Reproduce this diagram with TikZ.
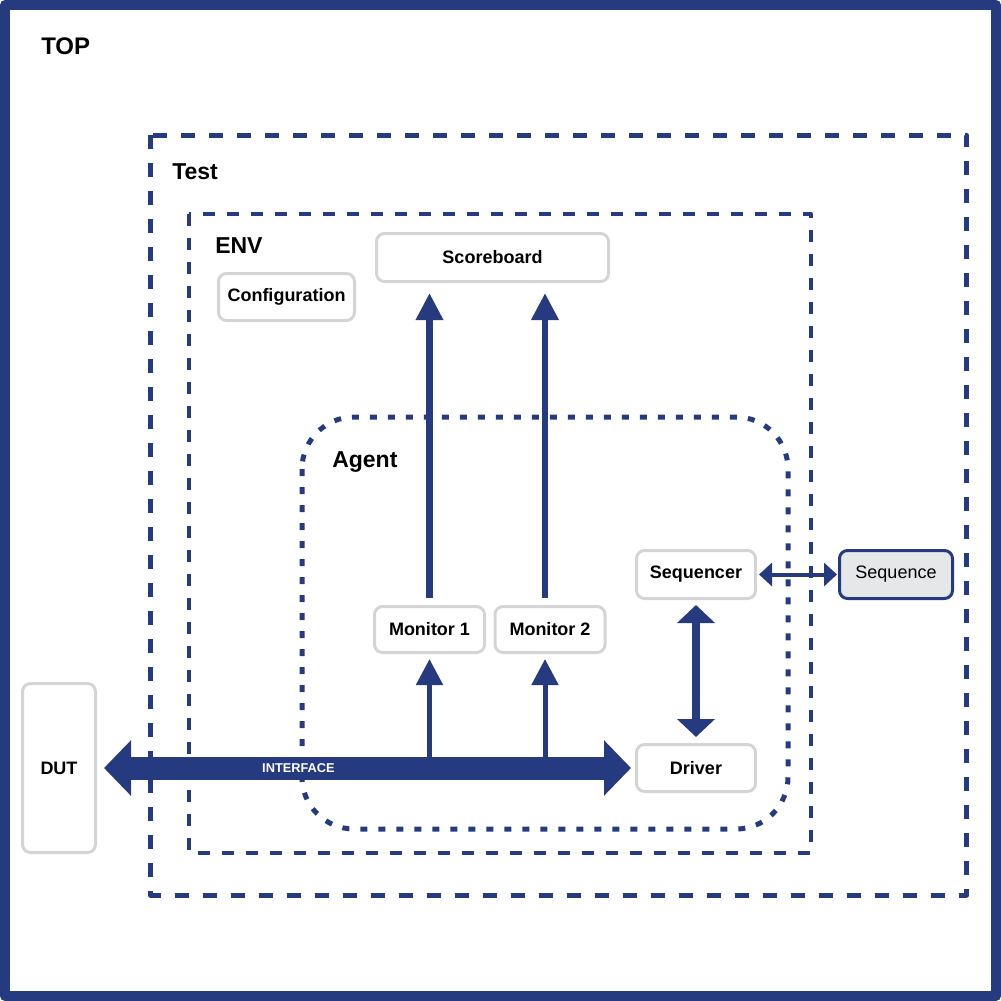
\documentclass[tikz,border=0pt]{standalone}
\usepackage{fontspec}
\setmainfont{Liberation Sans}
\usetikzlibrary{arrows.meta,calc}
\definecolor{navy}{RGB}{38,58,128}
\definecolor{boxgray}{RGB}{212,212,212}
\definecolor{seqfill}{RGB}{230,231,232}
\begin{document}
\begin{tikzpicture}[line cap=round,line join=round,x=0.75pt,y=-0.75pt,
  frame/.style={draw=navy,line cap=butt},
  title/.style={anchor=base west,inner sep=0pt,font=\bfseries\fontsize{17.25}{20}\selectfont},
  block/.style={draw=boxgray,line width=2.25pt,rounded corners=6pt,fill=white,inner sep=0pt,minimum width=89.25pt,minimum height=36pt,font=\bfseries\fontsize{13.5}{16}\selectfont},
  bus/.style={navy,line width=17.25pt,line cap=butt,{Triangle[length=20.25pt,width=40.5pt]}-{Triangle[length=20.25pt,width=40.5pt]}},
  tap/.style={navy,line width=3.75pt,line cap=butt,-{Triangle[length=19.5pt,width=19.5pt]}},
  feed/.style={navy,line width=4.9pt,line cap=butt,-{Triangle[length=20.25pt,width=19.5pt]}},
  link/.style={navy,line width=6pt,line cap=butt,{Triangle[length=13.5pt,width=27.75pt]}-{Triangle[length=13.5pt,width=27.75pt]}},
  thinlink/.style={navy,line width=3pt,line cap=butt,{Triangle[length=9.75pt,width=17.25pt]}-{Triangle[length=9.75pt,width=17.25pt]}}]
\useasboundingbox (0,0) rectangle (1001,1001);
\draw[navy,line width=7.5pt] (5,5) rectangle (996,996);
\draw[frame,line width=3.75pt,dash pattern=on 10.5pt off 10.5pt] (150.5,135) rectangle (966.5,895);
\draw[frame,line width=3pt,dash pattern=on 9pt off 9pt] (189,214) rectangle (811,853);
\draw[frame,line width=3.75pt,dash pattern=on 5.25pt off 8.25pt,rounded corners=39pt] (302,417) rectangle (788,829);
\node[title,font=\bfseries\fontsize{18}{21}\selectfont] (top) at (41,54) {TOP};
\node[title] (test) at (172,179) {Test};
\node[title] (env) at (215,253) {ENV};
\node[title] (agent) at (332,467) {Agent};
\node[block,minimum width=174pt] (score) at (492.5,257.5) {Scoreboard};
\node[block,minimum width=102pt,minimum height=35.25pt] (config) at (286.5,297) {Configuration};
\node[block,minimum width=82.5pt,minimum height=34.5pt] (mon1) at (429.5,629.5) {Monitor 1};
\node[block,minimum width=82.5pt,minimum height=34.5pt] (mon2) at (550,629.5) {Monitor 2};
\node[block] (seqr) at (696,574.5) {Sequencer};
\node[block,draw=navy,fill=seqfill,minimum width=84.75pt,font=\fontsize{13.5}{16}\selectfont] (seq) at (896,574.5) {Sequence};
\node[block,minimum height=35.25pt] (drv) at (696,768) {Driver};
\node[block,minimum width=54.75pt,minimum height=126.75pt] (dut) at (59,768) {DUT};
\draw[bus,shorten <=5.25pt,shorten >=3pt] (dut) -- (drv);
\node[text=white,font=\bfseries\fontsize{9.6}{11}\selectfont] (ifc) at (298.5,768) {INTERFACE};
\draw[tap,shorten >=3.75pt] (mon1.south |- ifc) -- (mon1.south);
\draw[tap,shorten >=3.75pt] ($(mon2.south |- ifc)+(-5,0)$) -- ($(mon2.south)+(-5,0)$);
\draw[feed,shorten <=5.25pt,shorten >=7.5pt] (mon1.north) -- (mon1.north |- score.south);
\draw[feed,shorten <=5.25pt,shorten >=7.5pt] ($(mon2.north)+(-5,0)$) -- ($(mon2.north |- score.south)+(-5,0)$);
\draw[link,shorten <=3.75pt,shorten >=4.5pt] (seqr) -- (drv);
\draw[thinlink,shorten <=1.5pt,shorten >=0.75pt] (seqr) -- (seq);
\end{tikzpicture}
\end{document}
